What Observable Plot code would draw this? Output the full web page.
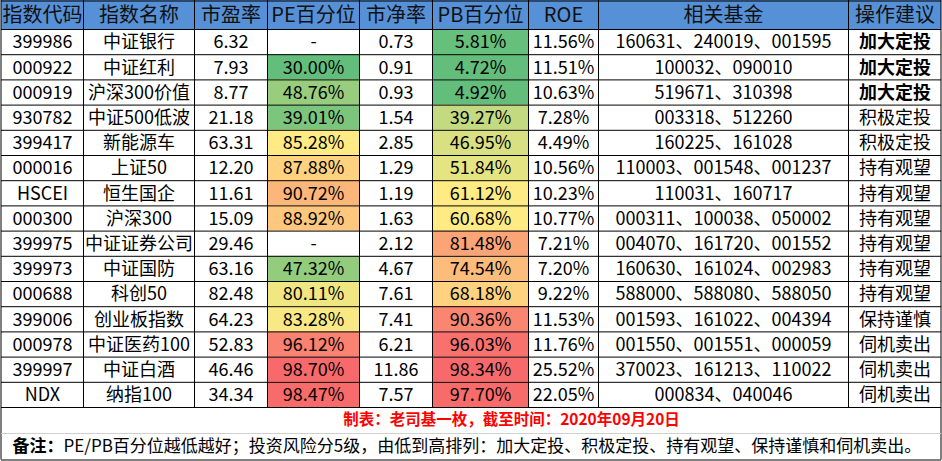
<!DOCTYPE html>
<html><head><meta charset="utf-8">
<script src="https://cdn.jsdelivr.net/npm/d3@7"></script>
<script src="https://cdn.jsdelivr.net/npm/@observablehq/plot@0.6"></script>
<style>
html,body{margin:0;padding:0;background:#fff;}
#chart svg{display:block;}
</style></head><body><div id="chart"></div>
<script>
// ---- data ----
const headers = ["指数代码","指数名称","市盈率","PE百分位","市净率","PB百分位","ROE","相关基金","操作建议"];
const codes = ["399986","000922","000919","930782","399417","000016","HSCEI","000300","399975","399973","000688","399006","000978","399997","NDX"];
const names = ["中证银行","中证红利","沪深300价值","中证500低波","新能源车","上证50","恒生国企","沪深300","中证证券公司","中证国防","科创50","创业板指数","中证医药100","中证白酒","纳指100"];
const pe = [6.32,7.93,8.77,21.18,63.31,12.20,11.61,15.09,29.46,63.16,82.48,64.23,52.83,46.46,34.34];
const pePct = [null,30.00,48.76,39.01,85.28,87.88,90.72,88.92,null,47.32,80.11,83.28,96.12,98.70,98.47];
const pb = [0.73,0.91,0.93,1.54,2.85,1.29,1.19,1.63,2.12,4.67,7.61,7.41,6.21,11.86,7.57];
const pbPct = [5.81,4.72,4.92,39.27,46.95,51.84,61.12,60.68,81.48,74.54,68.18,90.36,96.03,98.34,97.70];
const roe = [11.56,11.51,10.63,7.28,4.49,10.56,10.23,10.77,7.21,7.20,9.22,11.53,11.76,25.52,22.05];
const funds = ["160631、240019、001595","100032、090010","519671、310398","003318、512260","160225、161028","110003、001548、001237","110031、160717","000311、100038、050002","004070、161720、001552","160630、161024、002983","588000、588080、588050","001593、161022、004394","001550、001551、000059","370023、161213、110022","000834、040046"];
const advice = ["加大定投","加大定投","加大定投","积极定投","积极定投","持有观望","持有观望","持有观望","持有观望","持有观望","持有观望","保持谨慎","伺机卖出","伺机卖出","伺机卖出"];
const captionText = "制表：老司基一枚，截至时间：2020年09月20日";
const noteLabel = "备注：";
const noteText = "PE/PB百分位越低越好；投资风险分5级，由低到高排列：加大定投、积极定投、持有观望、保持谨慎和伺机卖出。";

// ---- layout (table geometry) ----
const colEdges = [1, 83, 194, 267, 359, 432, 528, 598, 848, 941];
const headerH = 29, rowH = 25.2;
const nRows = codes.length;
const rowTop = i => headerH + i * rowH;
const tableBottom = rowTop(nRows);
const captionBottom = tableBottom + 26;
const noteBottom = 459.5;

// Excel-style 3-color scale: position relative to min / median / max of each column
function colorPos(values) {
  const v = values.filter(d => d != null);
  const lo = d3.min(v), hi = d3.max(v), med = d3.median(v);
  return values.map(x => x == null ? null : (x <= med ? 0.5 * (x - lo) / (med - lo) : 0.5 + 0.5 * (x - med) / (hi - med)));
}
const peT = colorPos(pePct), pbT = colorPos(pbPct);

const fmtPct = x => x == null ? "-" : x.toFixed(2) + "%";
const cells = [];
const fills = [];
for (let i = 0; i < nRows; i++) {
  const vals = [codes[i], names[i], pe[i].toFixed(2), fmtPct(pePct[i]), pb[i].toFixed(2), fmtPct(pbPct[i]), roe[i].toFixed(2) + "%", funds[i], advice[i]];
  vals.forEach((t, c) => cells.push({row: i, col: c, text: t, bold: c === 8 && advice[i] === "加大定投"}));
  if (peT[i] != null) fills.push({row: i, col: 3, t: peT[i]});
  if (pbT[i] != null) fills.push({row: i, col: 5, t: pbT[i]});
}
const headerCells = headers.map((h, c) => ({col: c, text: h}));

const hLines = [0.5, headerH, ...d3.range(1, nRows + 1).map(rowTop)];
const vLines = colEdges.slice(1, -1);

const font = "'Noto Sans CJK SC', 'Noto Sans', sans-serif";
const cx = d => (colEdges[d.col] + colEdges[d.col + 1]) / 2;
const cy = d => rowTop(d.row) + rowH / 2 + 0.5;

const chart = Plot.plot({
  width: 942, height: 461, margin: 0,
  x: {type: "identity", axis: null},
  y: {type: "identity", axis: null},
  color: {type: "linear", domain: [0, 0.5, 1], range: ["#63BE7B", "#FFEB84", "#F8696B"], interpolate: "rgb"},
  style: {fontFamily: font, background: "#fff"},
  marks: [
    // header background
    Plot.rect([0], {x1: colEdges[0], x2: colEdges[9], y1: 0, y2: headerH, fill: "#5690D6"}),
    // percentile colour cells
    Plot.rect(fills, {x1: d => colEdges[d.col], x2: d => colEdges[d.col + 1], y1: d => rowTop(d.row), y2: d => rowTop(d.row + 1), fill: "t"}),
    // grid lines
    Plot.ruleY(hLines, {x1: colEdges[0], x2: colEdges[9], y: d => d, stroke: "#000", strokeWidth: 1}),
    Plot.ruleX(vLines, {x: d => d, y1: 0, y2: tableBottom, stroke: "#000", strokeWidth: 1}),
    Plot.ruleX([colEdges[0] - 0.5, colEdges[9] - 0.5], {x: d => d, y1: 0, y2: noteBottom, stroke: "#000", strokeWidth: 1}),
    Plot.ruleY([captionBottom], {x1: colEdges[0], x2: colEdges[9], y: d => d, stroke: "#d0d0d0", strokeWidth: 1}),
    Plot.ruleY([noteBottom], {x1: colEdges[0], x2: colEdges[9], y: d => d, stroke: "#000", strokeWidth: 1}),
    // header text
    Plot.text(headerCells, {x: cx, y: headerH / 2 + 0.5, text: "text", fontSize: 20, fill: "#111"}),
    // body text
    Plot.text(cells.filter(d => !d.bold), {x: cx, y: cy, text: "text", fontSize: 18, fill: "#000"}),
    Plot.text(cells.filter(d => d.bold), {x: cx, y: cy, text: "text", fontSize: 18, fill: "#000", fontWeight: "bold"}),
    // caption
    Plot.text([captionText], {x: 511, y: (tableBottom + captionBottom) / 2, text: d => d, fontSize: 15.5, fontWeight: "bold", fill: "#FF0000"}),
    // footnote
    Plot.text([noteLabel], {x: 12, y: (captionBottom + noteBottom) / 2, text: d => d, textAnchor: "start", fontSize: 17, fontWeight: "bold", fill: "#000"}),
    Plot.text([noteText], {x: 12 + 17 * 3, y: (captionBottom + noteBottom) / 2, text: d => d, textAnchor: "start", fontSize: 17, fill: "#000"})
  ]
});
document.getElementById("chart").appendChild(chart);
</script>
</body></html>
